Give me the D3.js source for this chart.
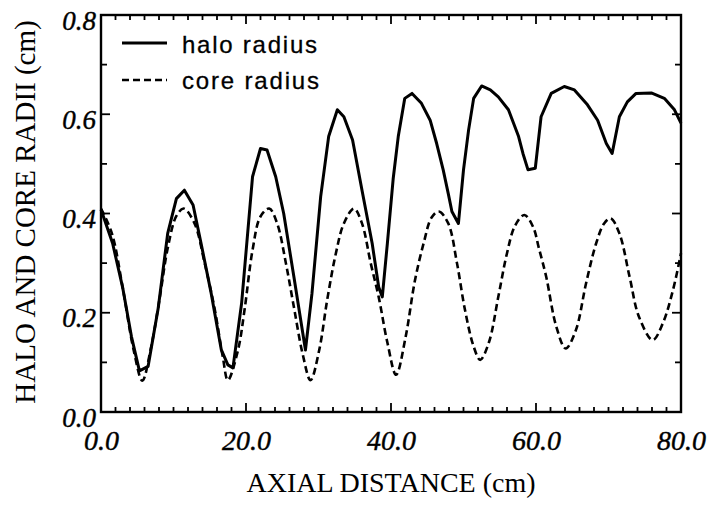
<!DOCTYPE html>
<html><head><meta charset="utf-8">
<script src="https://cdn.jsdelivr.net/npm/d3@7"></script>
<style>
html,body{margin:0;padding:0;background:#fff;}
svg{display:block;}
</style></head>
<body>
<svg id="chart" width="715" height="506"></svg>
<script>
// ---- data ----
const haloX = [0,1.6,3.0,4.2,5.3,6.5,7.9,9.2,10.4,11.5,12.7,13.8,15.2,16.6,17.5,18.2,19.4,20.9,22.0,22.9,24.1,25.2,26.6,28.2,29.1,30.3,31.4,32.6,33.5,34.7,36.0,37.4,38.3,38.8,39.5,40.3,41.0,41.9,42.9,44.2,45.4,46.3,47.2,47.9,48.4,49.3,50.0,50.7,51.4,52.5,53.7,54.8,56.2,57.6,58.2,58.9,59.9,60.7,62.1,63.9,65.3,67.1,68.5,69.7,70.5,71.5,72.6,73.8,75.9,77.7,79.1,80];
const haloY = [0.408,0.34,0.25,0.152,0.083,0.092,0.21,0.36,0.43,0.447,0.417,0.34,0.239,0.125,0.095,0.089,0.22,0.474,0.531,0.528,0.474,0.40,0.273,0.125,0.239,0.434,0.555,0.609,0.595,0.548,0.447,0.34,0.252,0.232,0.34,0.47,0.555,0.632,0.642,0.622,0.588,0.541,0.488,0.44,0.404,0.38,0.488,0.568,0.632,0.657,0.649,0.635,0.609,0.555,0.521,0.488,0.491,0.595,0.642,0.656,0.649,0.619,0.588,0.541,0.521,0.595,0.625,0.642,0.643,0.632,0.609,0.582];
const coreX = [0,1.5,3.0,4.5,5.7,6.9,8.1,9.2,10.4,11.4,12.9,14.3,15.7,16.8,17.5,18.9,19.8,20.9,22.0,23.2,24.3,25.5,26.6,27.8,28.9,30.1,31.2,32.4,33.5,34.9,36.0,37.2,38.3,39.5,40.7,42.0,43.3,44.5,45.6,46.6,47.9,49.1,50.2,51.4,52.3,53.5,54.8,56.0,57.1,58.4,59.6,60.4,61.4,62.8,64.1,65.5,66.9,68.3,69.4,70.3,71.5,72.9,74.2,76.1,77.5,78.9,80];
const coreY = [0.41,0.36,0.25,0.125,0.063,0.13,0.23,0.33,0.395,0.41,0.38,0.30,0.206,0.111,0.064,0.125,0.206,0.326,0.394,0.41,0.38,0.30,0.212,0.118,0.064,0.125,0.226,0.32,0.38,0.41,0.38,0.30,0.232,0.14,0.075,0.15,0.265,0.34,0.392,0.404,0.38,0.30,0.206,0.132,0.105,0.14,0.232,0.32,0.375,0.397,0.373,0.33,0.273,0.172,0.128,0.165,0.259,0.34,0.38,0.39,0.36,0.273,0.192,0.145,0.179,0.246,0.32];
const xTickVals = [0,20,40,60,80];
const xTickLabels = ["0.0","20.0","40.0","60.0","80.0"];
const yTickVals = [0,0.2,0.4,0.6,0.8];
const yTickLabels = ["0.0","0.2","0.4","0.6","0.8"];
const seriesNames = ["halo radius","core radius"];
const xTitle = "AXIAL DISTANCE (cm)";
const yTitle = "HALO AND CORE RADII (cm)";

// ---- layout ----
const L = 101, R = 681, T = 15, B = 412;
const svg = d3.select("#chart");
const x = d3.scaleLinear().domain([0,80]).range([L,R]);
const y = d3.scaleLinear().domain([0,0.8]).range([B,T]);
const serif = "'Liberation Serif','Times New Roman',serif";
const sans = "'Liberation Sans',Arial,Helvetica,sans-serif";

// minor/major ticks (inside)
const xMinor = d3.range(0,81,2);
const yMinor = d3.range(0,9).map(d=>d/10);
const tk = svg.append("g").attr("stroke","#000").attr("stroke-width",1.8);
xMinor.forEach(v=>{
  const len = (v%20===0)?9:5;
  tk.append("line").attr("x1",x(v)).attr("x2",x(v)).attr("y1",B).attr("y2",B-len);
  tk.append("line").attr("x1",x(v)).attr("x2",x(v)).attr("y1",T).attr("y2",T+len);
});
yMinor.forEach((v,i)=>{
  const len = (i%2===0)?9:6;
  tk.append("line").attr("y1",y(v)).attr("y2",y(v)).attr("x1",L).attr("x2",L+len);
  tk.append("line").attr("y1",y(v)).attr("y2",y(v)).attr("x1",R).attr("x2",R-len);
});

// axes via d3 (labels only, ticks drawn above)
const xAxis = d3.axisBottom(x).tickValues(xTickVals).tickFormat((d,i)=>xTickLabels[i]).tickSize(0).tickPadding(0);
const gx = svg.append("g").attr("transform",`translate(0,${B})`).call(xAxis);
gx.select(".domain").remove();
gx.selectAll("text").attr("font-family",serif).attr("font-style","italic").attr("font-size",28)
  .attr("fill","#000").attr("dy",null).attr("y",38).attr("stroke","#000").attr("stroke-width",0.4);

const yAxis = d3.axisLeft(y).tickValues(yTickVals).tickFormat((d,i)=>yTickLabels[i]).tickSize(0).tickPadding(0);
const gy = svg.append("g").attr("transform",`translate(${L},0)`).call(yAxis);
gy.select(".domain").remove();
gy.selectAll("text").attr("font-family",serif).attr("font-style","italic").attr("font-size",27)
  .attr("fill","#000").attr("dy",null).attr("y",14).attr("x",-5).attr("stroke","#000").attr("stroke-width",0.4);

// frame
svg.append("rect").attr("x",L).attr("y",T).attr("width",R-L).attr("height",B-T)
  .attr("fill","none").attr("stroke","#000").attr("stroke-width",2.4);

// lines
const halo = haloX.map((d,i)=>[d,haloY[i]]);
const core = coreX.map((d,i)=>[d,coreY[i]]);
svg.append("path").datum(core)
  .attr("d",d3.line().x(d=>x(d[0])).y(d=>y(d[1])).curve(d3.curveCatmullRom))
  .attr("fill","none").attr("stroke","#000").attr("stroke-width",2.6).attr("stroke-dasharray","7,4");
svg.append("path").datum(halo)
  .attr("d",d3.line().x(d=>x(d[0])).y(d=>y(d[1])))
  .attr("fill","none").attr("stroke","#000").attr("stroke-width",3).attr("stroke-linejoin","round");

// legend
const lg = svg.append("g");
lg.append("line").attr("x1",122).attr("x2",167).attr("y1",43).attr("y2",43).attr("stroke","#000").attr("stroke-width",2.8);
lg.append("line").attr("x1",122).attr("x2",167).attr("y1",80).attr("y2",80).attr("stroke","#000").attr("stroke-width",2.6).attr("stroke-dasharray","7,4");
lg.append("text").attr("x",182).attr("y",53).text(seriesNames[0]).attr("font-family",sans).attr("font-size",24).attr("textLength",135).attr("lengthAdjust","spacing").attr("stroke","#000").attr("stroke-width",0.3);
lg.append("text").attr("x",182).attr("y",89).text(seriesNames[1]).attr("font-family",sans).attr("font-size",24).attr("textLength",137).attr("lengthAdjust","spacing").attr("stroke","#000").attr("stroke-width",0.3);

// titles
svg.append("text").attr("x",(L+R)/2).attr("y",492).attr("text-anchor","middle")
  .attr("font-family",serif).attr("font-size",28).text(xTitle);
svg.append("text").attr("transform",`translate(35,212) rotate(-90)`).attr("text-anchor","middle")
  .attr("font-family",serif).attr("font-size",29).text(yTitle);
</script>
</body></html>
